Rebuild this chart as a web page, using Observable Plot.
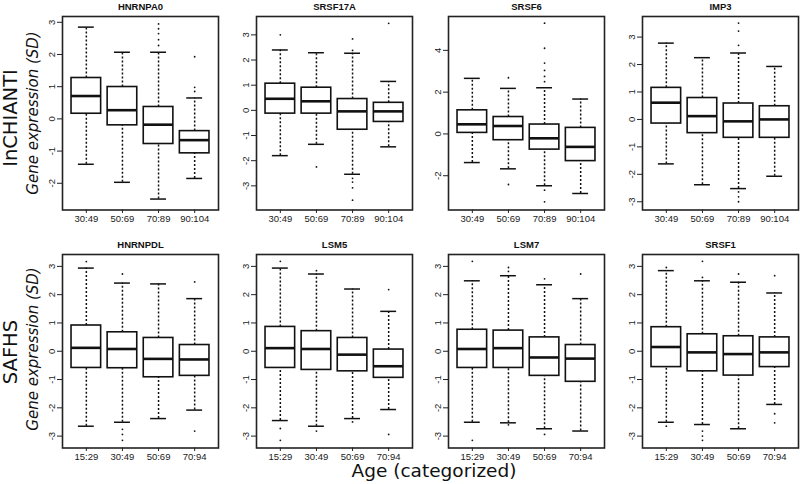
<!DOCTYPE html>
<html>
<head>
<meta charset="utf-8">
<script src="https://cdn.jsdelivr.net/npm/d3@7"></script>
<script src="https://cdn.jsdelivr.net/npm/@observablehq/plot@0.6"></script>
<style>
  html, body { margin: 0; padding: 0; background: #fff; }
  #wrap { position: relative; width: 800px; height: 484px; background: #fff; overflow: hidden; }
  .panel { position: absolute; }
  .lab { position: absolute; white-space: nowrap; line-height: 1; color: #111; font-family: "DejaVu Sans", Verdana, sans-serif; }
</style>
</head>
<body>
<div id="wrap"></div>
<script>
// ---------- data ----------
const agesInChianti = ["30:49", "50:69", "70:89", "90:104"];
const agesSafhs = ["15:29", "30:49", "50:69", "70:94"];

const genes = ["HNRNPA0", "SRSF17A", "SRSF6", "IMP3", "HNRNPDL", "LSM5", "LSM7", "SRSF1"];

// lower quartile, median, upper quartile, whisker ends (per gene, per age group)
const q1 = [
  [0.16, -0.20, -0.78, -1.07],
  [-0.13, -0.13, -0.77, -0.46],
  [0.05, -0.30, -0.75, -1.30],
  [-0.15, -0.50, -0.67, -0.67],
  [-0.59, -0.60, -0.92, -0.87],
  [-0.59, -0.66, -0.71, -0.94],
  [-0.59, -0.59, -0.87, -1.08],
  [-0.56, -0.71, -0.86, -0.56]
];
const med = [
  [0.71, 0.27, -0.18, -0.66],
  [0.46, 0.36, -0.04, -0.04],
  [0.46, 0.38, -0.21, -0.62],
  [0.61, 0.12, -0.07, 0.00],
  [0.12, 0.08, -0.27, -0.29],
  [0.11, 0.08, -0.12, -0.53],
  [0.08, 0.11, -0.22, -0.26],
  [0.15, -0.04, -0.10, -0.04]
];
const q3 = [
  [1.27, 0.99, 0.37, -0.38],
  [1.06, 0.90, 0.45, 0.30],
  [1.13, 0.81, 0.45, 0.29],
  [1.15, 0.78, 0.58, 0.48],
  [0.91, 0.67, 0.47, 0.22],
  [0.86, 0.71, 0.47, 0.06],
  [0.76, 0.73, 0.49, 0.22],
  [0.85, 0.60, 0.53, 0.49]
];
const whiskerLow = [
  [-1.41, -1.97, -2.49, -1.85],
  [-1.80, -1.35, -2.54, -1.45],
  [-1.37, -1.67, -2.48, -2.85],
  [-1.62, -2.38, -2.52, -2.07],
  [-2.65, -2.51, -2.38, -2.08],
  [-2.45, -2.65, -2.38, -2.06],
  [-2.51, -2.53, -2.74, -2.82],
  [-2.51, -2.59, -2.74, -1.88]
];
const whiskerHigh = [
  [2.85, 2.07, 2.07, 0.65],
  [2.40, 2.29, 2.27, 1.15],
  [2.66, 2.18, 2.21, 1.67],
  [2.78, 2.25, 2.42, 1.93],
  [2.94, 2.41, 2.38, 1.86],
  [2.94, 2.73, 2.20, 1.41],
  [2.49, 2.67, 2.35, 1.86],
  [2.85, 2.49, 2.44, 2.06]
];
const outliers = [
  [[], [], [2.95, 2.80, 2.65, 2.46, 2.28], [1.93, 0.98, 0.85]],
  [[3.00], [-2.25], [2.84, 2.38, -2.70, -2.85, -3.08, -3.57], [3.46]],
  [[], [2.69, -2.42], [5.30, 4.10, 3.39, 3.04, 2.75, 2.50, -2.69, -3.25], []],
  [[], [], [3.51, 3.22, 2.70, -2.64, -2.82, -3.00], []],
  [[3.17], [2.73, -2.76, -2.94, -3.15], [], [2.45, -2.82]],
  [[3.18, -2.73, -3.15], [2.85, -2.82], [-2.50], [2.18, -2.94]],
  [[3.18, -3.15], [2.96, 2.82, -2.60], [2.56, -2.94], [2.73]],
  [[2.96, -2.65], [3.18, 2.61, -2.82, -3.00, -3.15], [2.73], [2.67, -2.21, -2.53]]
];

// y-axis domains and ticks per panel
const yDomains = [
  [-2.83, 3.18], [-3.96, 3.73], [-3.64, 5.62], [-3.30, 3.75],
  [-3.42, 3.42], [-3.42, 3.42], [-3.42, 3.42], [-3.42, 3.42]
];
const yTicks = [
  [-2, -1, 0, 1, 2, 3], [-3, -2, -1, 0, 1, 2, 3], [-2, 0, 2, 4], [-3, -2, -1, 0, 1, 2, 3],
  [-3, -2, -1, 0, 1, 2, 3], [-3, -2, -1, 0, 1, 2, 3], [-3, -2, -1, 0, 1, 2, 3], [-3, -2, -1, 0, 1, 2, 3]
];

// ---------- layout ----------
const frameLefts = [62, 255.5, 448, 642];
const frameTops = [16, 253.5];
const frameW = 156, frameH = 193.5;
const mL = 36, mR = 3, mT = 16, mB = 22;

const wrap = document.getElementById("wrap");

genes.forEach((gene, g) => {
  const row = g < 4 ? 0 : 1;
  const col = g % 4;
  const cats = row === 0 ? agesInChianti : agesSafhs;
  const boxes = cats.map((c, i) => ({
    pos: i + 1, q1: q1[g][i], med: med[g][i], q3: q3[g][i],
    lo: whiskerLow[g][i], hi: whiskerHigh[g][i]
  }));
  const outs = cats.flatMap((c, i) => outliers[g][i].map(v => ({pos: i + 1, v})));
  const bw = 0.41, cw = 0.22;

  const plot = Plot.plot({
    width: mL + frameW + mR,
    height: mT + frameH + mB,
    marginLeft: mL, marginRight: mR, marginTop: mT, marginBottom: mB,
    style: {background: "transparent", overflow: "visible", fontFamily: "'Liberation Sans', Arial, sans-serif", fontSize: "9.5px", color: "#1a1a1a"},
    x: {domain: [0.34, 4.66], axis: null},
    y: {domain: yDomains[g], axis: null},
    marks: [
      Plot.axisX({ticks: [1, 2, 3, 4], tickFormat: d => cats[d - 1], tickSize: 3.5, tickPadding: 1.5, fontSize: 9.5, stroke: "#222", fill: "#1a1a1a", label: null}),
      Plot.axisY({ticks: yTicks[g], tickFormat: d => String(d), tickSize: 5, tickPadding: 3, tickRotate: -90, fontSize: 9.5, stroke: "#222", fill: "#1a1a1a", label: null}),
      Plot.ruleX(boxes, {x: "pos", y1: "q3", y2: "hi", stroke: "#111", strokeWidth: 1.5, strokeDasharray: "2,2"}),
      Plot.ruleX(boxes, {x: "pos", y1: "lo", y2: "q1", stroke: "#111", strokeWidth: 1.5, strokeDasharray: "2,2"}),
      Plot.ruleY(boxes, {y: "hi", x1: d => d.pos - cw, x2: d => d.pos + cw, stroke: "#111", strokeWidth: 1.5}),
      Plot.ruleY(boxes, {y: "lo", x1: d => d.pos - cw, x2: d => d.pos + cw, stroke: "#111", strokeWidth: 1.5}),
      Plot.rect(boxes, {x1: d => d.pos - bw, x2: d => d.pos + bw, y1: "q1", y2: "q3", fill: "white", stroke: "#111", strokeWidth: 1.6}),
      Plot.ruleY(boxes, {y: "med", x1: d => d.pos - bw, x2: d => d.pos + bw, stroke: "#111", strokeWidth: 2.6}),
      Plot.dot(outs, {x: "pos", y: "v", r: 0.9, fill: "#111", stroke: "none"}),
      Plot.frame({stroke: "#222", strokeWidth: 1.6}),
      Plot.text([gene], {frameAnchor: "top", dy: -10, fontWeight: "bold", fontSize: 9.5, fill: "#111", lineAnchor: "middle"})
    ]
  });
  plot.classList.add("panel");
  plot.style.left = (frameLefts[col] - mL) + "px";
  plot.style.top = (frameTops[row] - mT) + "px";
  plot.style.position = "absolute";
  plot.style.maxWidth = "none";
  wrap.appendChild(plot);
});

// ---------- outer labels ----------
function addLabel(text, cx, cy, size, rotate, italic) {
  const d = document.createElement("div");
  d.className = "lab";
  d.textContent = text;
  d.style.fontSize = size + "px";
  if (italic) d.style.fontStyle = "italic";
  d.style.left = cx + "px";
  d.style.top = cy + "px";
  d.style.transform = "translate(-50%, -50%)" + (rotate ? " rotate(-90deg)" : "");
  wrap.appendChild(d);
}
const rowLabels = ["InCHIANTI", "SAFHS"];
const yLabel = "Gene expression (SD)";
const xLabel = "Age (categorized)";
addLabel(rowLabels[0], 10.5, 118, 19.5, true, false);
addLabel(yLabel, 32.5, 113, 15, true, true);
addLabel(rowLabels[1], 10.5, 352, 19.5, true, false);
addLabel(yLabel, 32.5, 349, 15, true, true);
addLabel(xLabel, 434, 471, 18.5, false, false);
</script>
</body>
</html>
